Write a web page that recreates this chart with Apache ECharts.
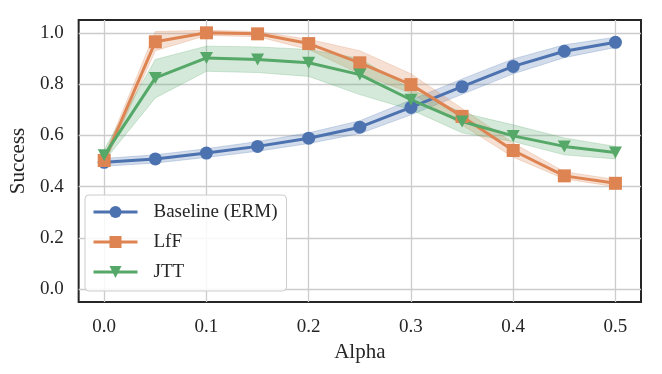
<!DOCTYPE html>
<html><head><meta charset="utf-8">
<script src="https://cdn.jsdelivr.net/npm/echarts@6/dist/echarts.min.js"></script>
<style>html,body{margin:0;padding:0;background:#fff}#c{width:662px;height:374px}</style>
</head><body><div id="c"></div>
<script>
const alphas = [0.0,0.05,0.1,0.15,0.2,0.25,0.3,0.35,0.4,0.45,0.5];
const xTickLabels = ['0.0','0.1','0.2','0.3','0.4','0.5'];
const yTickLabels = ['0.0','0.2','0.4','0.6','0.8','1.0'];
const seriesNames = ['Baseline (ERM)','LfF','JTT'];

const baseline   = [0.495,0.508,0.531,0.557,0.589,0.632,0.709,0.790,0.869,0.928,0.963];
const baselineLo = [0.480,0.492,0.514,0.538,0.568,0.607,0.680,0.760,0.840,0.903,0.943];
const baselineHi = [0.510,0.524,0.548,0.576,0.610,0.657,0.738,0.820,0.898,0.953,0.983];

const lff   = [0.502,0.965,1.000,0.996,0.958,0.883,0.798,0.674,0.541,0.442,0.413];
const lffLo = [0.485,0.930,0.990,0.985,0.935,0.840,0.765,0.640,0.515,0.430,0.400];
const lffHi = [0.520,1.005,1.010,1.005,0.975,0.930,0.840,0.705,0.570,0.458,0.428];

const jtt   = [0.522,0.824,0.902,0.896,0.883,0.837,0.739,0.654,0.598,0.557,0.533];
const jttLo = [0.500,0.746,0.850,0.845,0.830,0.759,0.700,0.610,0.576,0.524,0.508];
const jttHi = [0.545,0.896,0.948,0.945,0.935,0.900,0.780,0.688,0.641,0.590,0.557];

const colors = ['#4C72B0','#DD8452','#55A868'];
const font = '"Liberation Serif", "DejaVu Serif", serif';
const dark = '#262626';

function pairs(ys){ return alphas.map((a,i)=>[a, ys[i]]); }
function bandSeries(lo, hi, color){
  return {type:'custom', silent:true, z:1, clip:true,
    data: alphas.map((a,i)=>[a, lo[i], hi[i]]),
    encode:{x:0, y:[1,2]},
    renderItem:function(params, api){
      if (params.dataIndex !== 0) return null;
      const pts = [];
      for (let i=0;i<alphas.length;i++) pts.push(api.coord([alphas[i], hi[i]]));
      for (let i=alphas.length-1;i>=0;i--) pts.push(api.coord([alphas[i], lo[i]]));
      return {type:'polygon', shape:{points:pts},
        style:{fill:color, stroke:color, lineWidth:1, opacity:0.25}};
    }};
}
function mainSeries(name, ys, color, symbol, rotate, size){
  return {type:'line', name:name, data:pairs(ys), symbol:symbol, symbolRotate:rotate, symbolSize:size,
    showSymbol:true, color:color, lineStyle:{width:3, color:color}, itemStyle:{color:color, borderWidth:0}, z:3};
}
function fmt(labels, step){
  return function(v){
    const k = Math.round(v/step);
    if (Math.abs(v - k*step) > 1e-6 || k < 0 || k >= labels.length) return '';
    return labels[k];
  };
}

const chart = echarts.init(document.getElementById('c'), null, {renderer:'canvas'});
chart.setOption({
  animation:false,
  backgroundColor:'#fff',
  grid:{left:74, right:21, top:20, bottom:72, show:true, borderColor:dark, borderWidth:2, backgroundColor:'transparent'},
  xAxis:{type:'value', min:-0.025, max:0.525, splitNumber:5,
    name:'Alpha', nameLocation:'middle', nameGap:40,
    nameTextStyle:{fontFamily:font, fontSize:21, color:dark},
    axisLine:{show:false}, axisTick:{show:false},
    axisLabel:{formatter:fmt(xTickLabels,0.1), fontFamily:font, fontSize:19, color:dark, margin:16, showMinLabel:true, showMaxLabel:true},
    splitLine:{show:true, showMinLine:false, showMaxLine:false, lineStyle:{color:'#cccccc', width:1.3}}},
  yAxis:{type:'value', min:-0.05, max:1.05, splitNumber:5,
    name:'Success', nameLocation:'middle', nameGap:47,
    nameTextStyle:{fontFamily:font, fontSize:21, color:dark},
    axisLine:{show:false}, axisTick:{show:false},
    axisLabel:{formatter:fmt(yTickLabels,0.2), fontFamily:font, fontSize:19, color:dark, margin:15},
    splitLine:{show:true, showMinLine:false, showMaxLine:false, lineStyle:{color:'#cccccc', width:1.3}}},
  legend:{data:seriesNames, orient:'vertical', left:85, top:195,
    padding:[7,9,9,7], itemWidth:44, itemHeight:15, itemGap:10,
    lineStyle:{width:3},
    backgroundColor:'rgba(255,255,255,0.85)', borderColor:'#cccccc', borderWidth:1, borderRadius:4,
    textStyle:{fontFamily:font, fontSize:19, color:dark, lineHeight:20, padding:[0,0,0,11]}},
  series:[
    bandSeries(baselineLo, baselineHi, colors[0]),
    bandSeries(lffLo, lffHi, colors[1]),
    bandSeries(jttLo, jttHi, colors[2]),
    mainSeries(seriesNames[0], baseline, colors[0], 'circle', 0, 13),
    mainSeries(seriesNames[1], lff, colors[1], 'rect', 0, 13),
    mainSeries(seriesNames[2], jtt, colors[2], 'triangle', 180, [13,12])
  ]
});
</script></body></html>
